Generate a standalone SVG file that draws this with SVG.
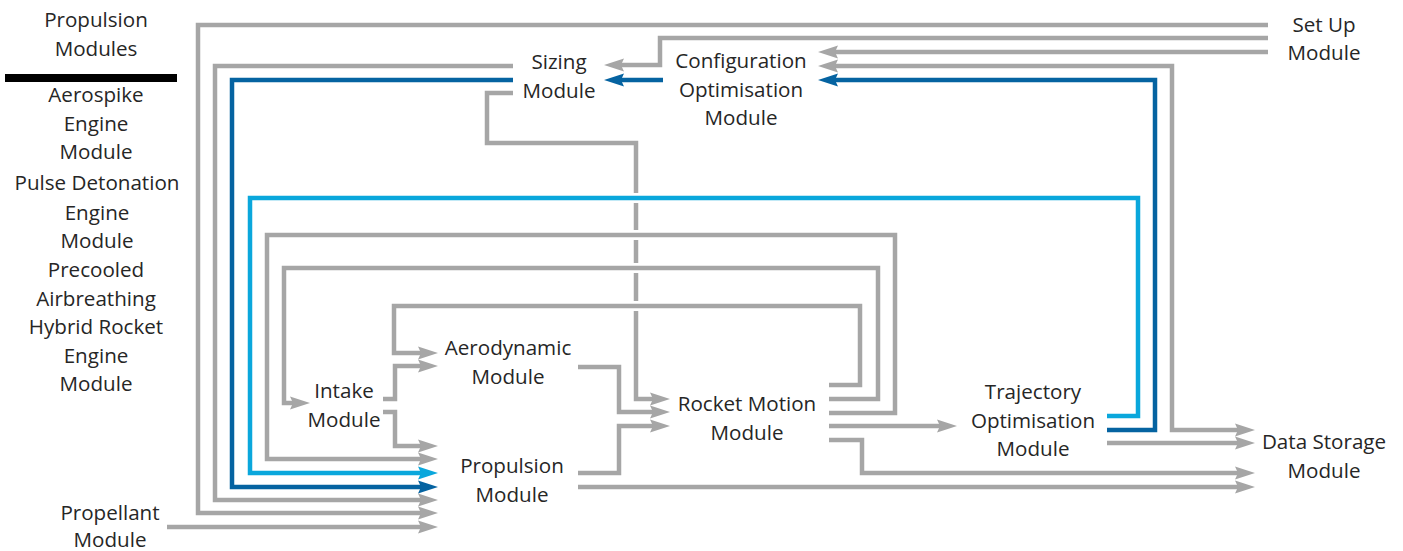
<svg xmlns="http://www.w3.org/2000/svg" width="1403" height="551" viewBox="0 0 1403 551">
<style>
  text { font-family: "Open Sans", "Noto Sans", "Liberation Sans", sans-serif; font-size: 20.6px; fill: #262626; text-anchor: middle; }
  .c { fill: none; stroke-width: 4.5; stroke-linejoin: miter; stroke-linecap: butt; }
  .g { stroke: #A6A6A6; marker-end: url(#ag); }
  .d { stroke: #0563A1; marker-end: url(#ad); }
  .l { stroke: #0AA7DC; marker-end: url(#al); }
</style>
<defs>
  <marker id="ag" markerUnits="userSpaceOnUse" markerWidth="20" markerHeight="14" refX="5" refY="7" orient="auto-start-reverse" viewBox="0 0 20 14">
    <path d="M0,0.5 L20,7 L0,13.5 L3,7 z" fill="#A6A6A6"/>
  </marker>
  <marker id="ad" markerUnits="userSpaceOnUse" markerWidth="20" markerHeight="14" refX="5" refY="7" orient="auto" viewBox="0 0 20 14">
    <path d="M0,0.5 L20,7 L0,13.5 L3,7 z" fill="#0563A1"/>
  </marker>
  <marker id="al" markerUnits="userSpaceOnUse" markerWidth="20" markerHeight="14" refX="5" refY="7" orient="auto" viewBox="0 0 20 14">
    <path d="M0,0.5 L20,7 L0,13.5 L3,7 z" fill="#0AA7DC"/>
  </marker>
</defs>
<rect width="1403" height="551" fill="#ffffff"/>

<g id="connectors">
  <path class="c g" d="M1268,25 H198 V513 H423"/>
  <path class="c g" d="M1268,38 H660 V65 H619"/>
  <path class="c g" d="M1268,52 H833"/>
  <path class="c g" d="M833,66 H1172 V430 H1240" marker-start="url(#ag)"/>
  <path class="c d" d="M1107,430 H1155 V80 H833"/>
  <path class="c d" d="M663,80 H619"/>
  <path class="c g" d="M513,66 H215 V500 H423"/>
  <path class="c d" d="M513,80 H232 V487 H423"/>
  <path class="c g" d="M513,93 H487 V143 H636 V193 M636,203 V230 M636,240 V263 M636,273 V301 M636,311 V399 H655"/>
  <path class="c l" d="M1107,416 H1138 V198 H250 V473 H423"/>
  <path class="c g" d="M829,413 H895 V235 H267 V459 H423"/>
  <path class="c g" d="M829,399 H878 V268 H284 V403 H295"/>
  <path class="c g" d="M829,385 H860 V306 H394 V353 H423"/>
  <path class="c g" d="M383,399 H395 V366 H423"/>
  <path class="c g" d="M383,412 H395 V446 H423"/>
  <path class="c g" d="M167,527 H423"/>
  <path class="c g" d="M578,367 H619 V412 H655"/>
  <path class="c g" d="M578,473 H619 V426 H655"/>
  <path class="c g" d="M829,426 H942"/>
  <path class="c g" d="M829,440 H862 V473 H1240"/>
  <path class="c g" d="M578,487 H1240"/>
  <path class="c g" d="M1107,443 H1240"/>
</g>

<g id="propulsion-modules">
  <text x="96" y="27">Propulsion</text>
  <text x="96" y="56">Modules</text>
  <rect x="5" y="74" width="172" height="8" fill="#000000"/>
  <text x="96" y="102">Aerospike</text>
  <text x="96" y="131">Engine</text>
  <text x="96" y="159">Module</text>
  <text x="97" y="190">Pulse Detonation</text>
  <text x="97" y="220">Engine</text>
  <text x="97" y="248">Module</text>
  <text x="96" y="277">Precooled</text>
  <text x="96" y="306">Airbreathing</text>
  <text x="96" y="334">Hybrid Rocket</text>
  <text x="96" y="363">Engine</text>
  <text x="96" y="391">Module</text>
</g>
<g id="propellant">
  <text x="110" y="520">Propellant</text>
  <text x="110" y="547">Module</text>
</g>
<g id="sizing">
  <text x="559" y="69">Sizing</text>
  <text x="559" y="98">Module</text>
</g>
<g id="configuration">
  <text x="741" y="68">Configuration</text>
  <text x="741" y="97">Optimisation</text>
  <text x="741" y="125">Module</text>
</g>
<g id="setup">
  <text x="1324" y="32">Set Up</text>
  <text x="1324" y="60">Module</text>
</g>
<g id="aerodynamic">
  <text x="508" y="355">Aerodynamic</text>
  <text x="508" y="384">Module</text>
</g>
<g id="intake">
  <text x="344" y="398">Intake</text>
  <text x="344" y="427">Module</text>
</g>
<g id="propulsion">
  <text x="512" y="473">Propulsion</text>
  <text x="512" y="502">Module</text>
</g>
<g id="rocket-motion">
  <text x="747" y="411">Rocket Motion</text>
  <text x="747" y="440">Module</text>
</g>
<g id="trajectory">
  <text x="1033" y="399">Trajectory</text>
  <text x="1033" y="428">Optimisation</text>
  <text x="1033" y="456">Module</text>
</g>
<g id="data-storage">
  <text x="1324" y="449">Data Storage</text>
  <text x="1324" y="478">Module</text>
</g>
</svg>
